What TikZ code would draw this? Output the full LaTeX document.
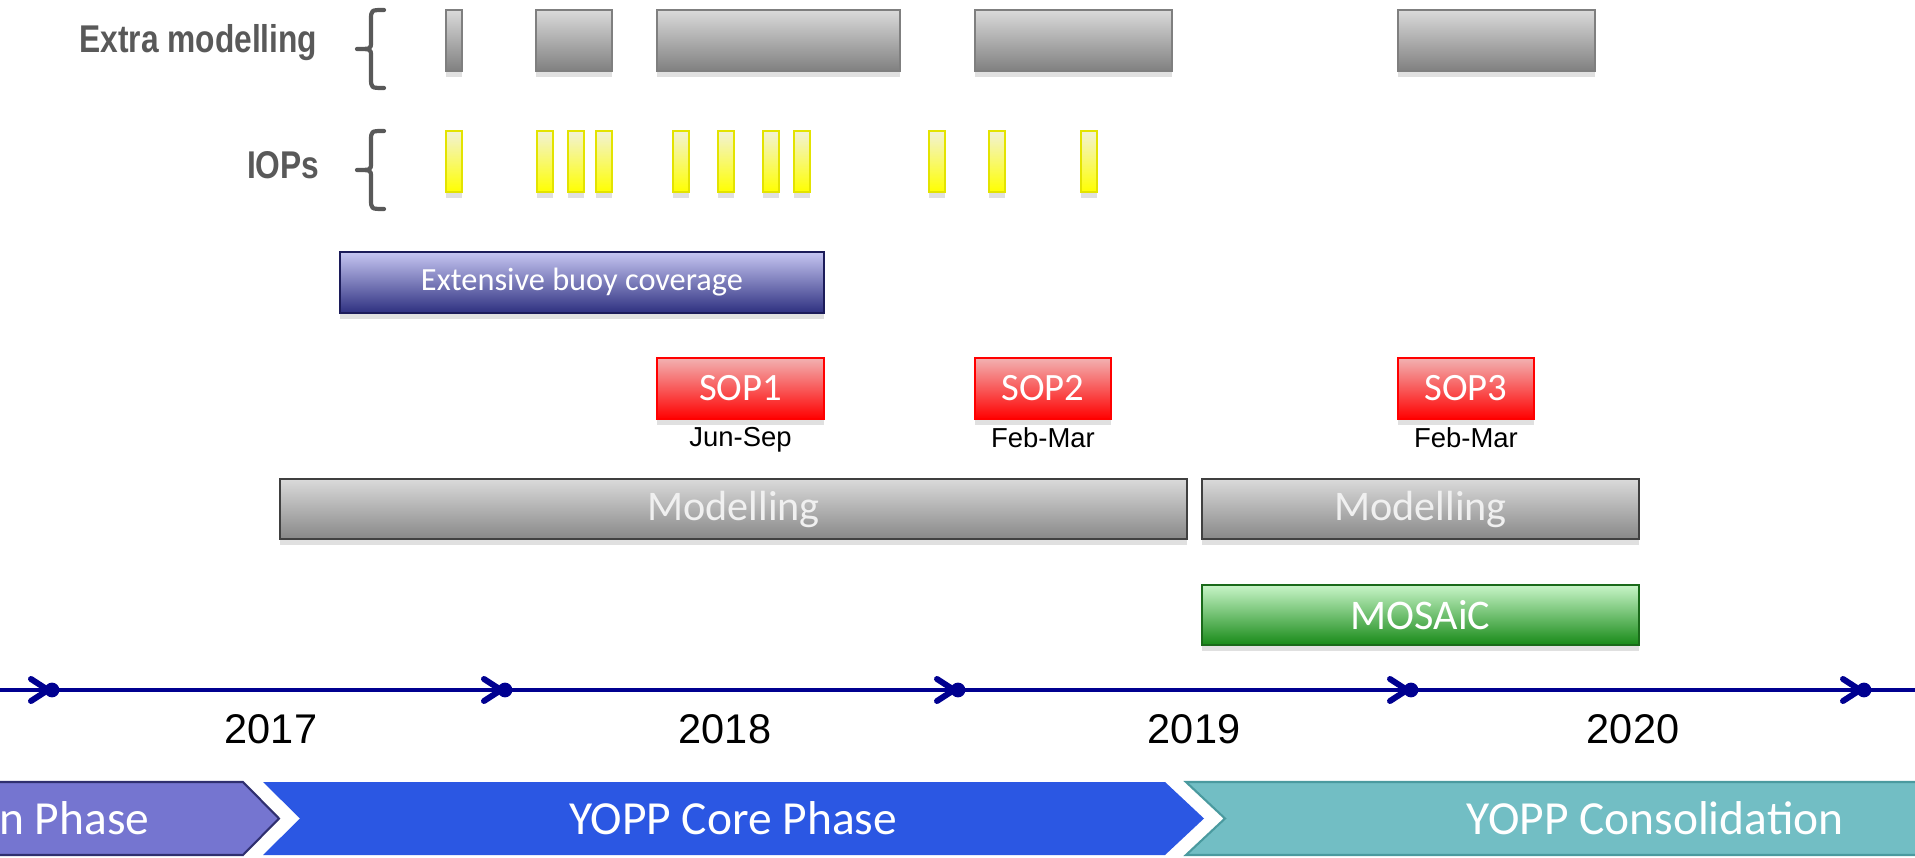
\documentclass[tikz,border=0pt]{standalone}
\usepackage{fontspec}
\setmainfont{Carlito}
\newfontfamily\arialfont{Liberation Sans}
\newfontfamily\narrowfont[FakeStretch=0.82]{Liberation Sans}
\usetikzlibrary{arrows.meta,calc,fit,positioning,shadows}

\definecolor{labelgray}{HTML}{595959}
\definecolor{emtop}{HTML}{DADADA}
\definecolor{embot}{HTML}{808080}
\definecolor{emborder}{HTML}{7F7F7F}
\definecolor{ioptop}{HTML}{F2F2D6}
\definecolor{iopbot}{HTML}{FFFF00}
\definecolor{iopborder}{HTML}{E3E300}
\definecolor{buoytop}{HTML}{C6C6F2}
\definecolor{buoybot}{HTML}{2E3080}
\definecolor{buoyborder}{HTML}{1C1C5A}
\definecolor{soptop}{HTML}{F2B2B2}
\definecolor{sopbot}{HTML}{FF0000}
\definecolor{modtop}{HTML}{DADADA}
\definecolor{modbot}{HTML}{888888}
\definecolor{modborder}{HTML}{404040}
\definecolor{mostop}{HTML}{C8F5C8}
\definecolor{mosbot}{HTML}{188A18}
\definecolor{mosborder}{HTML}{1A6A1A}
\definecolor{navy}{HTML}{000090}
\definecolor{prepfill}{HTML}{7575D0}
\definecolor{prepborder}{HTML}{2F2F6F}
\definecolor{corefill}{HTML}{2B57E3}
\definecolor{consfill}{HTML}{72BEC4}
\definecolor{consborder}{HTML}{4A9A9F}

\begin{document}
\begin{tikzpicture}[x=0.01cm, y=-0.01cm,
    box/.style={draw, inner sep=0pt, line width=0.6pt,
      drop shadow={shadow xshift=0pt, shadow yshift=-1.6pt, opacity=0.12, fill=black}},
    extrabox/.style={box, draw=emborder, top color=emtop, bottom color=embot},
    iopbar/.style={box, draw=iopborder, top color=ioptop, bottom color=iopbot},
    buoybox/.style={box, draw=buoyborder, top color=buoytop, bottom color=buoybot},
    sopbox/.style={box, draw=sopbot, top color=soptop, bottom color=sopbot},
    modbox/.style={box, draw=modborder, top color=modtop, bottom color=modbot},
    mosbox/.style={box, draw=mosborder, top color=mostop, bottom color=mosbot},
    boxtext/.style={text=white, inner sep=0pt, anchor=center},
    rowlabel/.style={anchor=east, inner sep=0pt, text=labelgray,
      font=\narrowfont\bfseries\fontsize{11}{13}\selectfont},
    rowbrace/.style={draw=labelgray, line width=1.2pt, line cap=round, line join=round},
    datelabel/.style={inner sep=1pt, font=\arialfont\fontsize{7.8}{9}\selectfont},
    yearlabel/.style={inner sep=0pt, font=\arialfont\fontsize{11.8}{14}\selectfont},
    timeline/.style={draw=navy, line width=1.25pt},
    tickdot/.style={circle, fill=navy, inner sep=0pt, minimum size=4.2pt},
    phasetext/.style={text=white, inner sep=0pt, font=\fontsize{13.5}{16}\selectfont}]

  \useasboundingbox (0,0) rectangle (1915,858);

  % row labels and braces
  \node[rowlabel] (extralabel) at (318,43) {Extra modelling};
  \node[rowlabel] (ioplabel) at (320,165) {IOPs};
  \foreach \t in {10,131}
    \draw[rowbrace] (384,\t) .. controls (371,\t) .. (371,\t+10) -- (371,\t+32)
      .. controls (371,\t+39) .. (357,\t+39) .. controls (371,\t+39) .. (371,\t+46)
      -- (371,\t+68) .. controls (371,\t+78) .. (384,\t+78);

  % extra modelling periods
  \foreach \xa/\xb [count=\i] in {446/462, 536/612, 657/900, 975/1172, 1398/1595}
    \node[extrabox, fit={(\xa,10) (\xb,71)}] (extra\i) {};

  % IOPs
  \foreach \xa [count=\i] in {446, 537, 568, 596, 673, 718, 763, 794, 929, 989, 1081}
    \node[iopbar, fit={(\xa,131) (\xa+16,192)}] (iop\i) {};

  \node[buoybox, fit={(340,252) (824,313)}] (buoy) {};
  \node[boxtext, font=\fontsize{9.2}{11}\selectfont] (buoytext) at (buoy) {Extensive buoy coverage};

  % special observing periods
  \node[sopbox, fit={(657,358) (824,419)}] (sop1) {};
  \node[sopbox, fit={(975,358) (1111,419)}] (sop2) {};
  \node[sopbox, fit={(1398,358) (1534,419)}] (sop3) {};
  \foreach \i in {1,2,3}
    \node[boxtext, font=\fontsize{11}{13}\selectfont] (sop\i text) at (sop\i) {SOP\i};
  \node[datelabel, below=1pt of sop1] (sop1date) {Jun-Sep};
  \node[datelabel, below=1pt of sop2] (sop2date) {Feb-Mar};
  \node[datelabel, below=1pt of sop3] (sop3date) {Feb-Mar};

  \node[modbox, fit={(280,479) (1187,539)}] (mod1) {};
  \node[modbox, fit={(1202,479) (1639,539)}] (mod2) {};
  \node[mosbox, fit={(1202,585) (1639,645)}] (mosaic) {};
  \node[boxtext, text=white!94!black, font=\fontsize{12}{14}\selectfont] (mod1text) at (mod1) {Modelling};
  \node[boxtext, text=white!94!black, font=\fontsize{12}{14}\selectfont] (mod2text) at (mod2) {Modelling};
  \node[boxtext, font=\fontsize{12}{14}\selectfont] (mosaictext) at (mosaic) {MOSAiC};

  % timeline
  \coordinate (tlstart) at (0,690);
  \coordinate (tlend) at (1915,690);
  \draw[timeline] (tlstart) -- (tlend);
  \foreach \x [count=\i] in {52,505,958,1411,1864} {
    \node[tickdot] (tick\i) at (\x,690) {};
    \draw[timeline, line width=1.7pt, line cap=round, line join=round]
      ($(tick\i)+(-21,-11)$) -- ($(tick\i)+(-4,0)$) -- ($(tick\i)+(-21,11)$);
  }
  \foreach \yr/\x in {2017/271, 2018/725, 2019/1194, 2020/1633}
    \node[yearlabel] (year\yr) at (\x,729) {\yr};

  % phases
  \fill[prepfill, draw=prepborder, line width=0.6pt]
    (-50,782) -- (243,782) -- (279,818.5) -- (243,855) -- (-50,855) -- cycle;
  \fill[corefill]
    (263,782) -- (1165,782) -- (1204,818.5) -- (1165,855) -- (263,855) -- (300,818.5) -- cycle;
  \fill[consfill, draw=consborder, line width=0.6pt]
    (1186,782) -- (1960,782) -- (1960,855) -- (1186,855) -- (1225,818.5) -- cycle;
  \node[phasetext, anchor=east] (prep) at (150,818) {n Phase};
  \node[phasetext] (core) at (733,818) {YOPP Core Phase};
  \node[phasetext] (cons) at (1655,818) {YOPP Consolidation};
\end{tikzpicture}
\end{document}
